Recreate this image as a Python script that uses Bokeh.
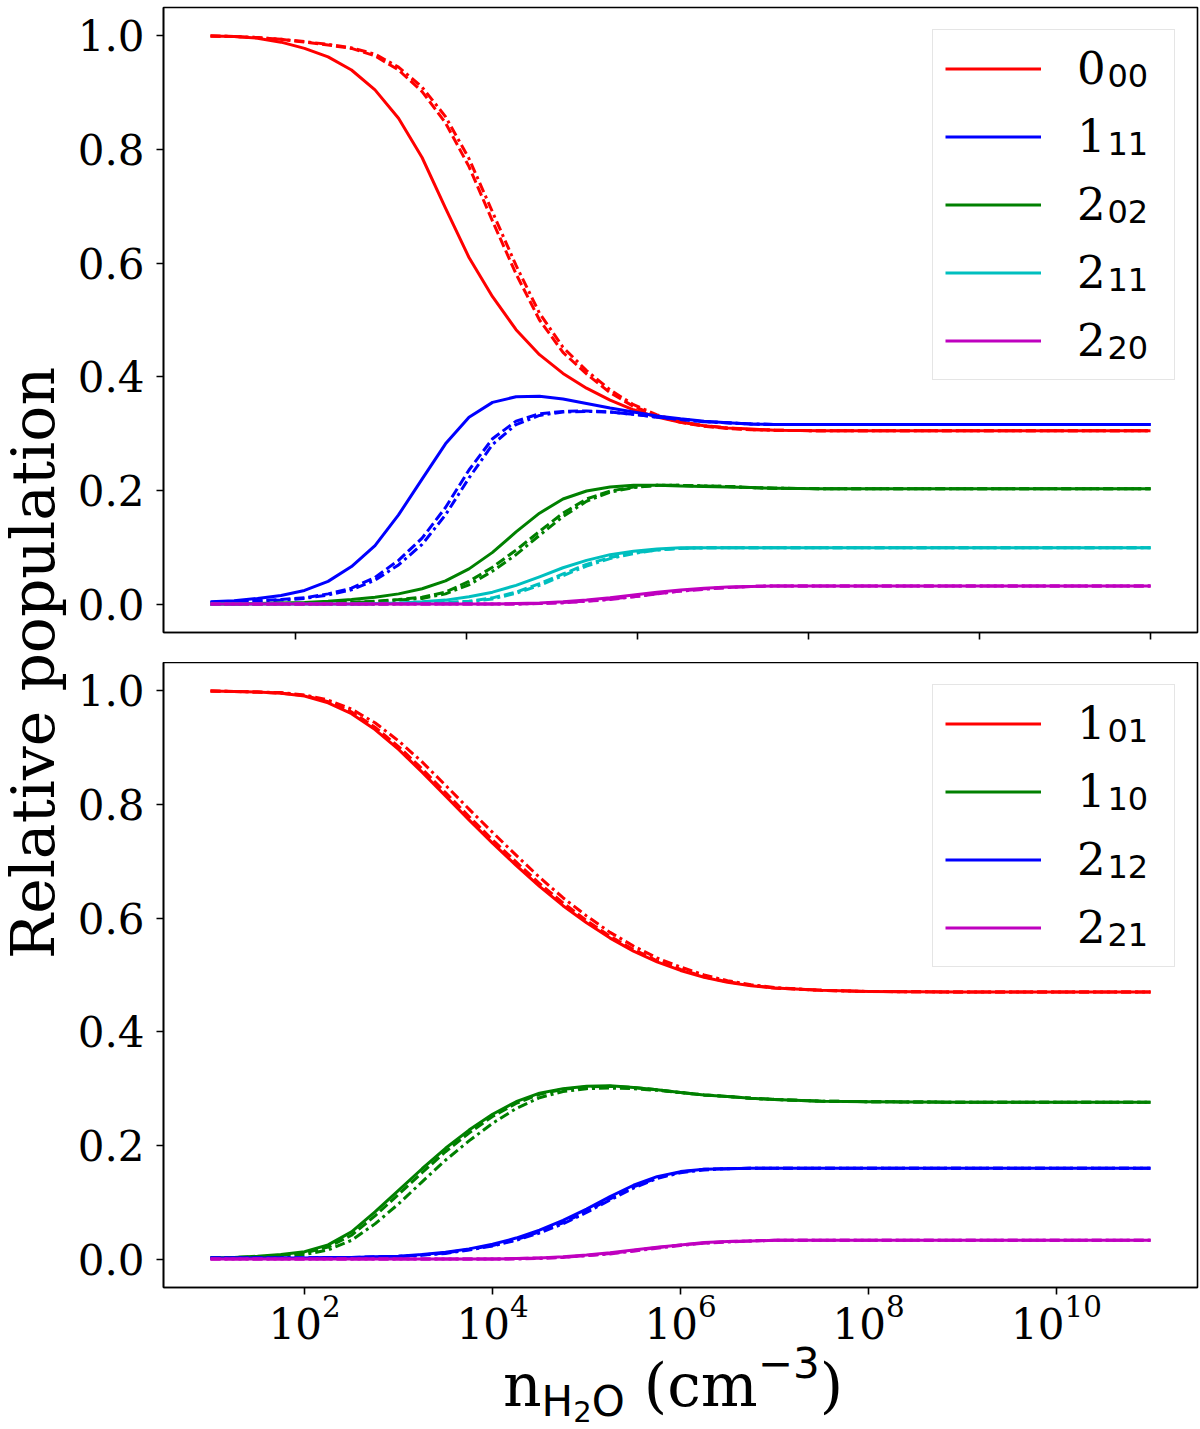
from bokeh.plotting import figure
from bokeh.layouts import row, column
from bokeh.models import (Range1d, FixedTicker, LogTickFormatter, PrintfTickFormatter,
                          CustomJSTickFormatter, Legend, LegendItem, Label, Div)
from bokeh.embed import file_html
from bokeh.resources import INLINE

# H2O density grid (cm^-3)
n_h2o = [1e1, 1.78e1, 3.16e1, 5.62e1, 1e2, 1.78e2, 3.16e2, 5.62e2,
         1e3, 1.78e3, 3.16e3, 5.62e3, 1e4, 1.78e4, 3.16e4, 5.62e4,
         1e5, 1.78e5, 3.16e5, 5.62e5, 1e6, 1.78e6, 3.16e6, 5.62e6,
         1e7, 3.16e7, 1e8, 1e9, 1e10, 1e11]

# upper panel: para levels
p000_solid = [1.000, 0.999, 0.996, 0.989, 0.978, 0.963, 0.940, 0.905, 0.855, 0.786, 0.697, 0.610, 0.541, 0.483, 0.439,
              0.406, 0.380, 0.359, 0.342, 0.329, 0.320, 0.314, 0.310, 0.308, 0.306, 0.305, 0.305, 0.305, 0.305, 0.305]
p000_dashed = [1.000, 0.999, 0.997, 0.994, 0.989, 0.984, 0.978, 0.965, 0.940, 0.902, 0.847, 0.770, 0.674, 0.581, 0.500,
               0.443, 0.405, 0.372, 0.348, 0.331, 0.320, 0.313, 0.309, 0.307, 0.306, 0.305, 0.305, 0.305, 0.305, 0.305]
p000_dashdot = [1.000, 0.999, 0.997, 0.994, 0.990, 0.985, 0.979, 0.968, 0.945, 0.910, 0.858, 0.784, 0.690, 0.596, 0.512,
                0.452, 0.411, 0.377, 0.351, 0.333, 0.321, 0.314, 0.310, 0.307, 0.306, 0.305, 0.305, 0.305, 0.305, 0.305]

p111_solid = [0.004, 0.006, 0.010, 0.015, 0.024, 0.040, 0.066, 0.103, 0.157, 0.220, 0.282, 0.329, 0.355, 0.365, 0.366,
              0.361, 0.353, 0.345, 0.338, 0.331, 0.326, 0.322, 0.319, 0.317, 0.316, 0.316, 0.316, 0.316, 0.316, 0.316]
p111_dashed = [0.003, 0.004, 0.006, 0.008, 0.011, 0.018, 0.028, 0.047, 0.077, 0.116, 0.170, 0.236, 0.291, 0.322, 0.335,
               0.339, 0.340, 0.338, 0.334, 0.329, 0.325, 0.321, 0.319, 0.317, 0.316, 0.316, 0.316, 0.316, 0.316, 0.316]
p111_dashdot = [0.003, 0.004, 0.005, 0.007, 0.010, 0.016, 0.025, 0.042, 0.069, 0.105, 0.157, 0.222, 0.281, 0.316, 0.332,
                0.338, 0.339, 0.338, 0.334, 0.329, 0.325, 0.321, 0.319, 0.317, 0.316, 0.316, 0.316, 0.316, 0.316, 0.316]

p202_solid = [0.000, 0.000, 0.001, 0.002, 0.003, 0.005, 0.008, 0.012, 0.018, 0.027, 0.041, 0.062, 0.091, 0.127, 0.160,
              0.185, 0.199, 0.206, 0.209, 0.209, 0.208, 0.207, 0.206, 0.205, 0.204, 0.203, 0.203, 0.203, 0.203, 0.203]
p202_dashed = [0.000, 0.000, 0.000, 0.001, 0.001, 0.002, 0.003, 0.005, 0.008, 0.012, 0.021, 0.040, 0.065, 0.095, 0.128,
               0.160, 0.185, 0.199, 0.206, 0.209, 0.209, 0.208, 0.207, 0.205, 0.204, 0.203, 0.203, 0.203, 0.203, 0.203]
p202_dashdot = [0.000, 0.000, 0.000, 0.001, 0.001, 0.002, 0.003, 0.004, 0.007, 0.010, 0.018, 0.034, 0.058, 0.087, 0.121,
                0.154, 0.181, 0.197, 0.205, 0.209, 0.209, 0.208, 0.207, 0.205, 0.204, 0.203, 0.203, 0.203, 0.203, 0.203]

p211_solid = [0.000, 0.000, 0.000, 0.000, 0.000, 0.000, 0.000, 0.001, 0.002, 0.004, 0.007, 0.013, 0.021, 0.033, 0.048,
              0.064, 0.077, 0.087, 0.093, 0.097, 0.099, 0.099, 0.099, 0.099, 0.099, 0.099, 0.099, 0.099, 0.099, 0.099]
p211_dashed = [0.000, 0.000, 0.000, 0.000, 0.000, 0.000, 0.000, 0.000, 0.001, 0.002, 0.003, 0.005, 0.011, 0.021, 0.036,
               0.053, 0.070, 0.082, 0.090, 0.095, 0.098, 0.099, 0.099, 0.099, 0.099, 0.099, 0.099, 0.099, 0.099, 0.099]
p211_dashdot = [0.000, 0.000, 0.000, 0.000, 0.000, 0.000, 0.000, 0.000, 0.001, 0.001, 0.002, 0.004, 0.009, 0.019, 0.033,
                0.050, 0.067, 0.080, 0.089, 0.095, 0.098, 0.099, 0.099, 0.099, 0.099, 0.099, 0.099, 0.099, 0.099, 0.099]

p220_solid = [0.000, 0.000, 0.000, 0.000, 0.000, 0.000, 0.000, 0.000, 0.000, 0.000, 0.000, 0.000, 0.000, 0.001, 0.002,
              0.004, 0.007, 0.011, 0.016, 0.021, 0.025, 0.028, 0.030, 0.031, 0.032, 0.032, 0.032, 0.032, 0.032, 0.032]
p220_dashed = [0.000, 0.000, 0.000, 0.000, 0.000, 0.000, 0.000, 0.000, 0.000, 0.000, 0.000, 0.000, 0.000, 0.000, 0.001,
               0.003, 0.005, 0.009, 0.013, 0.018, 0.023, 0.027, 0.029, 0.031, 0.032, 0.032, 0.032, 0.032, 0.032, 0.032]
p220_dashdot = [0.000, 0.000, 0.000, 0.000, 0.000, 0.000, 0.000, 0.000, 0.000, 0.000, 0.000, 0.000, 0.000, 0.000, 0.001,
                0.002, 0.005, 0.008, 0.013, 0.018, 0.023, 0.026, 0.029, 0.031, 0.032, 0.032, 0.032, 0.032, 0.032, 0.032]

# lower panel: ortho levels
o101_solid = [1.000, 0.999, 0.998, 0.996, 0.991, 0.979, 0.960, 0.932, 0.897, 0.857, 0.815, 0.773, 0.732, 0.693, 0.656,
              0.622, 0.592, 0.565, 0.542, 0.523, 0.508, 0.496, 0.487, 0.481, 0.477, 0.473, 0.471, 0.470, 0.470, 0.470]
o101_dashed = [1.000, 0.999, 0.998, 0.996, 0.992, 0.981, 0.963, 0.936, 0.902, 0.863, 0.821, 0.779, 0.738, 0.699, 0.661,
               0.627, 0.596, 0.568, 0.545, 0.525, 0.510, 0.497, 0.488, 0.482, 0.477, 0.473, 0.471, 0.470, 0.470, 0.470]
o101_dashdot = [1.000, 0.999, 0.998, 0.997, 0.993, 0.984, 0.968, 0.944, 0.912, 0.875, 0.834, 0.792, 0.751, 0.711, 0.672,
                0.636, 0.604, 0.575, 0.551, 0.530, 0.514, 0.500, 0.490, 0.483, 0.478, 0.473, 0.471, 0.470, 0.470, 0.470]

o110_solid = [0.002, 0.003, 0.005, 0.008, 0.013, 0.025, 0.048, 0.083, 0.121, 0.159, 0.195, 0.227, 0.255, 0.277, 0.292,
              0.300, 0.304, 0.305, 0.302, 0.298, 0.293, 0.289, 0.286, 0.283, 0.281, 0.278, 0.277, 0.276, 0.276, 0.276]
o110_dashed = [0.002, 0.003, 0.004, 0.007, 0.011, 0.021, 0.042, 0.076, 0.114, 0.152, 0.189, 0.222, 0.251, 0.274, 0.290,
               0.299, 0.303, 0.304, 0.302, 0.298, 0.293, 0.289, 0.286, 0.283, 0.281, 0.278, 0.277, 0.276, 0.276, 0.276]
o110_dashdot = [0.002, 0.002, 0.003, 0.005, 0.008, 0.016, 0.033, 0.062, 0.097, 0.136, 0.174, 0.208, 0.239, 0.265, 0.284,
                0.295, 0.300, 0.301, 0.300, 0.297, 0.293, 0.289, 0.286, 0.283, 0.281, 0.278, 0.277, 0.276, 0.276, 0.276]

o212_solid = [0.002, 0.002, 0.002, 0.002, 0.002, 0.003, 0.003, 0.004, 0.005, 0.008, 0.012, 0.018, 0.026, 0.037, 0.051,
              0.068, 0.088, 0.110, 0.130, 0.145, 0.154, 0.158, 0.159, 0.160, 0.160, 0.160, 0.160, 0.160, 0.160, 0.160]
o212_dashed = [0.002, 0.002, 0.002, 0.002, 0.002, 0.003, 0.003, 0.004, 0.005, 0.007, 0.011, 0.017, 0.024, 0.034, 0.048,
               0.064, 0.084, 0.106, 0.127, 0.143, 0.153, 0.158, 0.159, 0.160, 0.160, 0.160, 0.160, 0.160, 0.160, 0.160]
o212_dashdot = [0.002, 0.002, 0.002, 0.002, 0.002, 0.002, 0.003, 0.003, 0.004, 0.007, 0.010, 0.016, 0.023, 0.033, 0.046,
                0.062, 0.082, 0.104, 0.125, 0.142, 0.152, 0.157, 0.159, 0.160, 0.160, 0.160, 0.160, 0.160, 0.160, 0.160]

o221_solid = [0.000, 0.000, 0.000, 0.000, 0.000, 0.000, 0.000, 0.000, 0.000, 0.000, 0.000, 0.000, 0.000, 0.001, 0.002,
              0.004, 0.007, 0.011, 0.016, 0.021, 0.025, 0.029, 0.031, 0.032, 0.033, 0.033, 0.033, 0.033, 0.033, 0.033]
o221_dashed = [0.000, 0.000, 0.000, 0.000, 0.000, 0.000, 0.000, 0.000, 0.000, 0.000, 0.000, 0.000, 0.000, 0.001, 0.002,
               0.003, 0.006, 0.010, 0.015, 0.020, 0.025, 0.028, 0.031, 0.032, 0.033, 0.033, 0.033, 0.033, 0.033, 0.033]
o221_dashdot = [0.000, 0.000, 0.000, 0.000, 0.000, 0.000, 0.000, 0.000, 0.000, 0.000, 0.000, 0.000, 0.000, 0.000, 0.001,
                0.003, 0.006, 0.009, 0.014, 0.019, 0.024, 0.028, 0.030, 0.032, 0.033, 0.033, 0.033, 0.033, 0.033, 0.033]

y_ticks = [0.0, 0.2, 0.4, 0.6, 0.8, 1.0]
top_x_ticks = [8.11e1, 5.34e3, 3.51e5, 2.31e7, 1.52e9, 1e11]
bottom_x_ticks = [1e2, 1e4, 1e6, 1e8, 1e10]

RED, BLUE, GREEN, CYAN, MAGENTA = "#ff0000", "#0000ff", "#008000", "#00bfbf", "#bf00bf"
SERIF = "DejaVu Serif"
SANS = "DejaVu Sans"

# (J, KaKc subscript, colour, solid, dashed, dash-dot)
top_levels = [
    ("0", "00", RED, p000_solid, p000_dashed, p000_dashdot),
    ("1", "11", BLUE, p111_solid, p111_dashed, p111_dashdot),
    ("2", "02", GREEN, p202_solid, p202_dashed, p202_dashdot),
    ("2", "11", CYAN, p211_solid, p211_dashed, p211_dashdot),
    ("2", "20", MAGENTA, p220_solid, p220_dashed, p220_dashdot),
]
bottom_levels = [
    ("1", "01", RED, o101_solid, o101_dashed, o101_dashdot),
    ("1", "10", GREEN, o110_solid, o110_dashed, o110_dashdot),
    ("2", "12", BLUE, o212_solid, o212_dashed, o212_dashdot),
    ("2", "21", MAGENTA, o221_solid, o221_dashed, o221_dashdot),
]

FRAME_W, FRAME_H = 1034, 625
LEG_MARGIN, LEG_PAD, ROW_H, ROW_GAP = 22, 12, 53, 15


def make_panel(levels, border_top, border_bottom):
    p = figure(frame_width=FRAME_W, frame_height=FRAME_H, x_axis_type="log",
               x_range=Range1d(3.16, 3.16e11), y_range=Range1d(-0.05, 1.05),
               min_border_left=95, min_border_right=3, min_border_top=border_top,
               min_border_bottom=border_bottom,
               output_backend="svg", toolbar_location=None)
    p.grid.visible = False
    p.outline_line_color = "black"
    p.outline_line_width = 1.6
    for ax in p.axis:
        ax.axis_line_color = "black"
        ax.axis_line_width = 1.6
        ax.major_tick_line_color = "black"
        ax.major_tick_line_width = 1.6
        ax.major_tick_out = 7
        ax.major_tick_in = 0
        ax.minor_tick_line_color = None
        ax.major_label_text_font = SERIF
        ax.major_label_text_font_size = "42px"
        ax.major_label_text_color = "black"
    p.yaxis.ticker = FixedTicker(ticks=y_ticks)
    p.yaxis.formatter = PrintfTickFormatter(format="%.1f")
    p.yaxis.major_label_standoff = 12

    items = []
    for j, sub, color, solid, dashed, dashdot in levels:
        r = p.line(n_h2o, solid, line_color=color, line_width=3, line_join="round")
        p.line(n_h2o, dashed, line_color=color, line_width=3, line_dash="10 4", line_join="round")
        p.line(n_h2o, dashdot, line_color=color, line_width=3, line_dash="10 4 3 4", line_join="round")
        items.append(LegendItem(label=j, renderers=[r]))

    legend = Legend(items=items, location="top_right", margin=LEG_MARGIN, padding=LEG_PAD,
                    spacing=ROW_GAP, glyph_width=96, glyph_height=ROW_H, label_height=ROW_H,
                    label_width=85, label_standoff=36,
                    label_text_font=SERIF, label_text_font_size="45px",
                    label_text_color="black",
                    border_line_color="#cccccc", border_line_width=1.5,
                    background_fill_alpha=0)
    p.add_layout(legend)

    # subscripts of the legend labels (smaller sans, as in mathtext)
    for i, (j, sub, *_rest) in enumerate(levels):
        row_mid = LEG_MARGIN + LEG_PAD + i * (ROW_H + ROW_GAP) + ROW_H / 2
        p.add_layout(Label(x=944, y=FRAME_H - row_mid - 7, x_units="screen", y_units="screen",
                           text=sub, text_font=SANS, text_font_size="32px", level="overlay",
                           text_color="black", text_baseline="alphabetic"))
    return p


p1 = make_panel(top_levels, 7, 30)
p1.xaxis.ticker = FixedTicker(ticks=top_x_ticks)
p1.xaxis.formatter = CustomJSTickFormatter(code="return ''")
p1.xaxis.major_label_text_font_size = "1px"

p2 = make_panel(bottom_levels, 0, 80)
p2.xaxis.ticker = FixedTicker(ticks=bottom_x_ticks)
p2.xaxis.formatter = LogTickFormatter()
p2.xaxis.major_label_standoff = 0

ylabel = Div(width=58, height=1315, text=(
    "<div style=\"writing-mode:vertical-rl; transform:rotate(180deg); width:58px; height:1315px;"
    " font-family:'DejaVu Serif'; font-size:60px; line-height:56px; text-align:center;"
    " white-space:nowrap; color:black;\">Relative population</div>"))

xlabel = Div(width=1132, height=46, text=(
    "<div style=\"width:1034px; margin-left:83px; margin-top:-17px; text-align:center;"
    " font-family:'DejaVu Serif'; font-size:60px; line-height:60px; white-space:nowrap; color:black;\">"
    "n<span style=\"font-family:'DejaVu Sans'; font-size:42px; line-height:0; position:relative; top:10px;\">"
    "H<span style=\"font-size:29px; position:relative; top:6px;\">2</span>O</span>"
    " (cm<span style=\"font-family:'DejaVu Sans'; font-size:42px; line-height:0; position:relative; top:-28px;\">"
    "\u22123</span>)</div>"))

layout = row(ylabel, column(p1, p2, xlabel))

open("out.html", "w").write(file_html(layout, INLINE))
